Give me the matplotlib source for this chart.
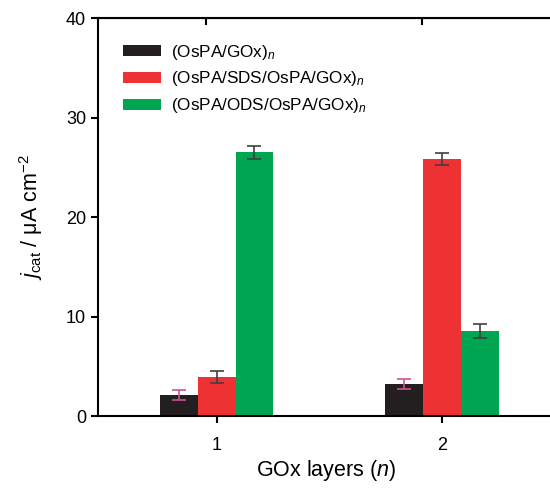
import numpy as np
import matplotlib
matplotlib.use('Agg')
import matplotlib.pyplot as plt

plt.rcParams['font.family'] = ['Liberation Sans', 'DejaVu Sans']
plt.rcParams['mathtext.fontset'] = 'custom'
plt.rcParams['mathtext.rm'] = 'Liberation Sans'
plt.rcParams['mathtext.it'] = 'Liberation Sans:italic'

layers = [1, 2]
series = ['(OsPA/GOx)$_{\\mathit{n}}$',
          '(OsPA/SDS/OsPA/GOx)$_{\\mathit{n}}$',
          '(OsPA/ODS/OsPA/GOx)$_{\\mathit{n}}$']
j_gox = [2.1, 3.2]
j_sds = [3.9, 25.8]
j_ods = [26.5, 8.5]
err_gox = [0.5, 0.5]
err_sds = [0.6, 0.6]
err_ods = [0.65, 0.7]

colors = ['#231f20', '#ee3233', '#00a551']
ecolors = ['#d0509a', '#404040', '#404040']

fig = plt.figure(figsize=(5.5, 4.88), dpi=100)
ax = fig.add_axes([0.178, 0.1475, 0.83, 0.8155])

x = np.array(layers, dtype=float)
w = 0.168
vals = [j_gox, j_sds, j_ods]
errs = [err_gox, err_sds, err_ods]
for i in range(3):
    ax.bar(x + (i - 1) * w, vals[i], w, color=colors[i], label=series[i],
           yerr=errs[i], ecolor=ecolors[i],
           error_kw=dict(capsize=5, elinewidth=1.2, capthick=1.2))

ax.set_xlim(0.473, 2.5)
ax.set_ylim(0, 40)
ax.set_yticks([0, 10, 20, 30, 40])
ax.set_xticks(layers)
ax.tick_params(axis='both', direction='out', length=5, width=1.5, labelsize=13)
ax.tick_params(axis='x', pad=10)
for s in ['left', 'bottom', 'top']:
    ax.spines[s].set_linewidth(1.5)
ax.spines['right'].set_visible(False)

# mirrored ticks on the top spine
top = ax.secondary_xaxis('top')
top.set_xticks([0.955, 1.91])
top.tick_params(direction='in', length=5, width=1.5, labeltop=False)

ax.set_xlabel('GOx layers ($\\mathit{n}$)', fontsize=15.5, labelpad=3)
ax.set_ylabel('$\\mathit{j}_{\\mathrm{cat}}$ / \u03bcA cm$^{-2}$', fontsize=15.5, labelpad=15)

ax.legend(loc='upper left', bbox_to_anchor=(0.022, 0.977), frameon=False,
          fontsize=12.3, handlelength=2.2, handleheight=0.6, labelspacing=0.46,
          handletextpad=0.6)

fig.savefig('out.png', dpi=100)
